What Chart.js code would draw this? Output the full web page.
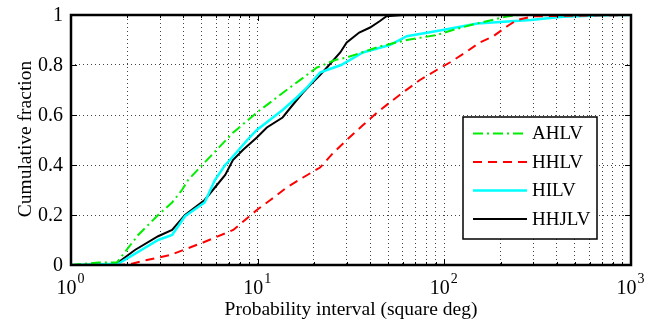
<!DOCTYPE html>
<html><head><meta charset="utf-8">
<script src="https://cdn.jsdelivr.net/npm/chart.js@4/dist/chart.umd.min.js"></script>
<style>html,body{margin:0;padding:0;background:#fff;}#wrap{width:659px;height:320px;}</style>
</head><body><div id="wrap"><canvas id="c" width="659" height="320"></canvas></div>
<script>
const seriesNames = ['AHLV', 'HHLV', 'HILV', 'HHJLV'];

const ahlvX = [1, 1.4, 1.76, 2.29, 2.93, 3.48, 3.93, 4.24, 5.2, 7.4, 9.9, 14.9, 20.8, 26, 30, 45, 63, 91, 111, 142, 216, 250, 1000];
const ahlvY = [0, 0.01, 0.01, 0.12, 0.20, 0.25, 0.30, 0.34, 0.41, 0.53, 0.61, 0.71, 0.79, 0.82, 0.83, 0.874, 0.90, 0.92, 0.94, 0.962, 0.994, 1, 1];

const hhlvX = [1, 1.8, 2.07, 2.55, 3.4, 5.1, 7.4, 9.9, 11.7, 14.3, 17.5, 21.6, 25.5, 30, 36.7, 43.6, 51, 60, 74, 91, 107, 132, 155, 183, 216, 245, 300, 1000];
const hhlvY = [0, 0, 0.003, 0.02, 0.04, 0.09, 0.14, 0.22, 0.26, 0.31, 0.35, 0.39, 0.45, 0.50, 0.56, 0.61, 0.65, 0.69, 0.74, 0.78, 0.81, 0.854, 0.89, 0.915, 0.954, 0.98, 0.995, 1];

const hilvX = [1, 1.5, 1.79, 2.93, 3.48, 4.08, 5.2, 5.9, 6.7, 7.1, 8.8, 9.9, 11.6, 13.6, 16.2, 18.4, 21.6, 23.5, 28, 36.6, 51, 63, 98, 150, 290, 430, 800, 1000];
const hilvY = [0, 0.003, 0.005, 0.10, 0.12, 0.195, 0.25, 0.34, 0.40, 0.42, 0.50, 0.54, 0.58, 0.62, 0.67, 0.71, 0.77, 0.78, 0.80, 0.85, 0.88, 0.915, 0.94, 0.966, 0.98, 0.993, 1, 1];

const hhjlvX = [1, 1.5, 1.75, 2.2, 2.93, 3.48, 4.08, 5.2, 5.9, 6.7, 7.37, 8.33, 9.9, 11.2, 13.6, 15.4, 17.5, 19.1, 21.6, 23.5, 27.7, 30, 35, 40, 45, 49, 60, 1000];
const hhjlvY = [0, 0.003, 0.005, 0.06, 0.115, 0.14, 0.20, 0.26, 0.31, 0.36, 0.42, 0.46, 0.51, 0.55, 0.59, 0.64, 0.69, 0.72, 0.76, 0.79, 0.85, 0.89, 0.93, 0.95, 0.975, 0.995, 1, 1];

const xMajorTicks = [1, 10, 100, 1000];
const xTickExponents = ['0', '1', '2', '3'];
const xMinorTicks = [2,3,4,5,6,7,8,9,20,30,40,50,60,70,80,90,200,300,400,500,600,700,800,900];
const yTickValues = [0, 0.2, 0.4, 0.6, 0.8, 1];
const yTickLabels = ['0', '0.2', '0.4', '0.6', '0.8', '1'];
const xTitle = 'Probability interval (square deg)';
const yTitle = 'Cumulative fraction';

const FONT = '"Liberation Serif", "Times New Roman", serif';
const styles = [
  {color: '#00ee00', dash: [10, 4, 2, 4], width: 2},
  {color: '#ff0000', dash: [9, 6], width: 2},
  {color: '#00ffff', dash: [], width: 2.5},
  {color: '#000000', dash: [], width: 2}
];
const seriesX = [ahlvX, hhlvX, hilvX, hhjlvX];
const seriesY = [ahlvY, hhlvY, hilvY, hhjlvY];

const datasets = seriesNames.map((name, i) => ({
  label: name,
  data: seriesX[i].map((x, j) => ({x: x, y: seriesY[i][j]})),
  borderColor: styles[i].color,
  borderDash: styles[i].dash,
  borderWidth: styles[i].width,
  pointRadius: 0,
  fill: false,
  tension: 0
}));

const decor = {
  id: 'decor',
  afterDraw(chart) {
    const ctx = chart.ctx, a = chart.chartArea, xs = chart.scales.x, ys = chart.scales.y;
    ctx.save();
    ctx.strokeStyle = '#000'; ctx.lineWidth = 1; ctx.setLineDash([]);
    const tick = (x1, y1, x2, y2) => { ctx.beginPath(); ctx.moveTo(x1, y1); ctx.lineTo(x2, y2); ctx.stroke(); };
    xMajorTicks.forEach(v => { const p = Math.round(xs.getPixelForValue(v)) + 0.5; tick(p, a.bottom, p, a.bottom - 6); tick(p, a.top, p, a.top + 6); });
    xMinorTicks.forEach(v => { const p = Math.round(xs.getPixelForValue(v)) + 0.5; tick(p, a.bottom, p, a.bottom - 3); tick(p, a.top, p, a.top + 3); });
    yTickValues.forEach(v => { const p = Math.round(ys.getPixelForValue(v)) + 0.5; tick(a.left, p, a.left + 6, p); tick(a.right, p, a.right - 6, p); });
    ctx.lineWidth = 2.5;
    ctx.strokeRect(a.left, a.top, a.right - a.left, a.bottom - a.top);
    ctx.fillStyle = '#000';
    ctx.font = '20px ' + FONT;
    ctx.textAlign = 'right'; ctx.textBaseline = 'middle';
    yTickValues.forEach((v, i) => ctx.fillText(yTickLabels[i], a.left - 8, ys.getPixelForValue(v) + 1));
    ctx.textBaseline = 'alphabetic'; ctx.textAlign = 'left';
    xMajorTicks.forEach((v, i) => {
      const p = xs.getPixelForValue(v);
      ctx.font = '20px ' + FONT; const w1 = ctx.measureText('10').width;
      ctx.font = '14px ' + FONT; const w2 = ctx.measureText(xTickExponents[i]).width;
      const x0 = p - (w1 + w2) / 2 - 1;
      ctx.font = '20px ' + FONT; ctx.fillText('10', x0, 294);
      ctx.font = '14px ' + FONT; ctx.fillText(xTickExponents[i], x0 + w1 + 1, 283);
    });
    ctx.font = '19.5px ' + FONT; ctx.textAlign = 'center';
    ctx.fillText(xTitle, (a.left + a.right) / 2, 315);
    ctx.save(); ctx.translate(31, (a.top + a.bottom) / 2 - 1); ctx.rotate(-Math.PI / 2);
    ctx.textBaseline = 'alphabetic'; ctx.fillText(yTitle, 0, 0); ctx.restore();
    const lx = 463, ly = 117, lw = 134, lh = 122;
    ctx.fillStyle = '#fff'; ctx.fillRect(lx, ly, lw, lh);
    ctx.strokeStyle = '#000'; ctx.lineWidth = 1.5; ctx.strokeRect(lx, ly, lw, lh);
    const rows = [133.5, 162, 190.5, 219];
    seriesNames.forEach((name, i) => {
      ctx.strokeStyle = styles[i].color; ctx.lineWidth = styles[i].width; ctx.setLineDash(styles[i].dash);
      ctx.beginPath(); ctx.moveTo(473, rows[i]); ctx.lineTo(527, rows[i]); ctx.stroke();
      ctx.setLineDash([]);
      ctx.fillStyle = '#000'; ctx.font = '19px ' + FONT; ctx.textAlign = 'left'; ctx.textBaseline = 'middle';
      ctx.fillText(name, 532, rows[i] + 1);
    });
    ctx.restore();
  }
};

new Chart(document.getElementById('c'), {
  type: 'line',
  data: {datasets: datasets},
  options: {
    responsive: false, animation: false, devicePixelRatio: 1,
    layout: {padding: {top: 15, right: 28, left: 0, bottom: 0}},
    plugins: {legend: {display: false}, tooltip: {enabled: false}},
    scales: {
      x: {
        type: 'logarithmic', min: 1, max: 1000,
        afterBuildTicks: s => { s.ticks = xMajorTicks.concat(xMinorTicks).sort((p, q) => p - q).map(v => ({value: v})); },
        afterFit: s => { s.height = 55; },
        ticks: {display: false, autoSkip: false},
        grid: {color: '#444', lineWidth: 1, drawTicks: false},
        border: {display: false, dash: [1, 3]}
      },
      y: {
        type: 'linear', min: 0, max: 1,
        afterBuildTicks: s => { s.ticks = yTickValues.map(v => ({value: v})); },
        afterFit: s => { s.width = 71; },
        ticks: {display: false},
        grid: {color: '#444', lineWidth: 1, drawTicks: false},
        border: {display: false, dash: [1, 3]}
      }
    }
  },
  plugins: [decor]
});
</script></body></html>
